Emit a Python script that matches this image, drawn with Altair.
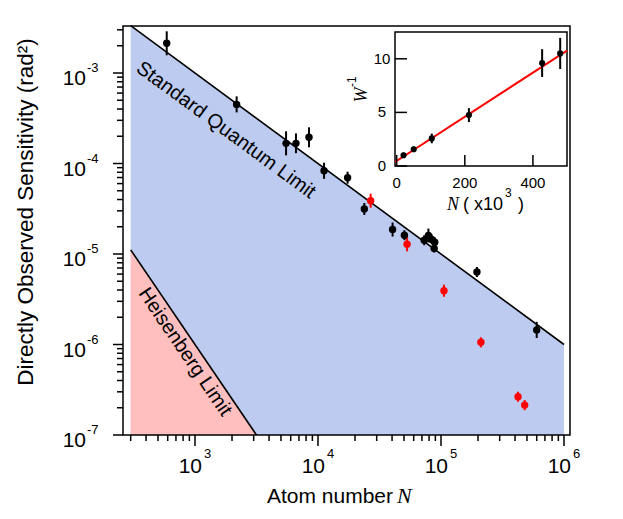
import altair as alt
import pandas as pd

# ---------------- main panel data ----------------
black_N = [589, 2180, 5500, 6620, 8450, 11200, 17400, 23800, 40400, 50400,
           73000, 79000, 84000, 89000, 88000, 196000, 600000]
black_S = [2.13e-3, 4.5e-4, 1.67e-4, 1.67e-4, 1.95e-4, 8.3e-5, 6.97e-5, 3.14e-5,
           1.87e-5, 1.61e-5, 1.42e-5, 1.6e-5, 1.45e-5, 1.35e-5, 1.15e-5, 6.33e-6, 1.45e-6]
black_lo = [1.57e-3, 3.67e-4, 1.23e-4, 1.30e-4, 1.51e-4, 6.77e-5, 5.98e-5, 2.70e-5,
            1.56e-5, 1.42e-5, 1.25e-5, 1.34e-5, 1.28e-5, 1.19e-5, 1.04e-5, 5.57e-6, 1.18e-6]
black_hi = [2.89e-3, 5.52e-4, 2.27e-4, 2.15e-4, 2.51e-4, 1.02e-4, 8.12e-5, 3.66e-5,
            2.23e-5, 1.83e-5, 1.61e-5, 1.91e-5, 1.65e-5, 1.53e-5, 1.27e-5, 7.19e-6, 1.78e-6]

red_N = [26800, 53000, 105700, 211000, 423000, 479000]
red_S = [3.88e-5, 1.28e-5, 3.93e-6, 1.06e-6, 2.65e-7, 2.14e-7]
red_lo = [3.25e-5, 1.07e-5, 3.37e-6, 9.3e-7, 2.33e-7, 1.88e-7]
red_hi = [4.64e-5, 1.53e-5, 4.58e-6, 1.2e-6, 3.01e-7, 2.43e-7]

sql_N = [300, 1e6]
sql_S = [3.333e-3, 1e-6]
hl_N = [300, 3162]
hl_S = [1.111e-5, 1e-7]
floor_S = 1e-7

x_major = [1e3, 1e4, 1e5, 1e6]
x_major_exp = ["3", "4", "5", "6"]
x_minor = [m * 10 ** e for e in (2, 3, 4, 5) for m in range(2, 10) if m * 10 ** e >= 300]
y_major = [1e-7, 1e-6, 1e-5, 1e-4, 1e-3]
y_major_exp = ["-7", "-6", "-5", "-4", "-3"]
y_minor = [m * 10.0 ** e for e in (-7, -6, -5, -4, -3) for m in range(2, 10) if m * 10.0 ** e < 3.3e-3]

sql_label = ["Standard Quantum Limit"]
sql_label_N = [1787]
sql_label_S = [2.34e-4]
hl_label = ["Heisenberg Limit"]
hl_label_N = [830]
hl_label_S = [8.26e-7]

# ---------------- inset data ----------------
inset_N = [20, 50, 103, 212, 427, 480]
inset_W = [1.0, 1.56, 2.57, 4.75, 9.6, 10.5]
inset_err = [0.25, 0.25, 0.45, 0.65, 1.3, 1.45]
fit_N = [-5, 500]
fit_W = [0.37, 10.77]
inset_xticks = [0, 200, 400]
inset_yticks = [0, 5, 10]

# ---------------- layout ----------------
W, H = 447, 409
FONT = "Liberation Sans"
SERIF = "Liberation Serif"
BLUE = "#BCCBEF"
PINK = "#FFBFBF"

xs = alt.Scale(type="log", domain=[259.8, 1.119e6])
ys = alt.Scale(type="log", domain=[1e-7, 3.307e-3])

def X(f):
    return alt.X(f, type="quantitative", scale=xs, axis=None)

def Y(f):
    return alt.Y(f, type="quantitative", scale=ys, axis=None)

black = pd.DataFrame({"N": black_N, "S": black_S, "lo": black_lo, "hi": black_hi})
red = pd.DataFrame({"N": red_N, "S": red_S, "lo": red_lo, "hi": red_hi})
sql = pd.DataFrame({"N": sql_N, "S": sql_S, "b": [floor_S] * len(sql_N)})
hl = pd.DataFrame({"N": hl_N, "S": hl_S, "b": [floor_S] * len(hl_N)})

blue_area = alt.Chart(sql).mark_area(color=BLUE, opacity=1).encode(x=X("N"), y=Y("S"), y2="b:Q")
pink_area = alt.Chart(hl).mark_area(color=PINK, opacity=1).encode(x=X("N"), y=Y("S"), y2="b:Q")
sql_line = alt.Chart(sql).mark_line(color="black", strokeWidth=1.6).encode(x=X("N"), y=Y("S"))
hl_line = alt.Chart(hl).mark_line(color="black", strokeWidth=1.6).encode(x=X("N"), y=Y("S"))

sql_text = alt.Chart(pd.DataFrame({"N": sql_label_N, "S": sql_label_S, "t": sql_label})).mark_text(
    angle=36.3, fontSize=20, font=FONT, color="black", align="center", baseline="middle"
).encode(x=X("N"), y=Y("S"), text="t:N")
hl_text = alt.Chart(pd.DataFrame({"N": hl_label_N, "S": hl_label_S, "t": hl_label})).mark_text(
    angle=55.8, fontSize=20, font=FONT, color="black", align="center", baseline="middle"
).encode(x=X("N"), y=Y("S"), text="t:N")

err_b = alt.Chart(black).mark_rule(color="black", strokeWidth=2).encode(x=X("N"), y=Y("lo"), y2="hi")
pts_b = alt.Chart(black).mark_circle(color="black", size=55, opacity=1).encode(x=X("N"), y=Y("S"))
err_r = alt.Chart(red).mark_rule(color="#FF0000", strokeWidth=2).encode(x=X("N"), y=Y("lo"), y2="hi")
pts_r = alt.Chart(red).mark_circle(color="#FF0000", size=55, opacity=1).encode(x=X("N"), y=Y("S"))

one = pd.DataFrame({"a": [0]})
frame = alt.Chart(one).mark_rect(fillOpacity=0, stroke="black", strokeWidth=1.5).encode(
    x=alt.value(0), x2=alt.value(W), y=alt.value(0), y2=alt.value(H))

xmaj = alt.Chart(pd.DataFrame({"t": x_major, "e": x_major_exp}))
xmin = alt.Chart(pd.DataFrame({"t": x_minor}))
ymaj = alt.Chart(pd.DataFrame({"t": y_major, "e": y_major_exp}))
ymin = alt.Chart(pd.DataFrame({"t": y_minor}))

xt_major = xmaj.mark_rule(color="black", strokeWidth=1.5).encode(x=X("t"), y=alt.value(H), y2=alt.value(H + 11))
xt_minor = xmin.mark_rule(color="black", strokeWidth=1.5).encode(x=X("t"), y=alt.value(H), y2=alt.value(H + 6))
yt_major = ymaj.mark_rule(color="black", strokeWidth=1.5).encode(y=Y("t"), x=alt.value(-10), x2=alt.value(0))
yt_minor = ymin.mark_rule(color="black", strokeWidth=1.5).encode(y=Y("t"), x=alt.value(-6), x2=alt.value(0))

xl_base = xmaj.transform_calculate(b="'10'").mark_text(
    align="right", baseline="alphabetic", dx=7, fontSize=21, font=FONT, color="black"
).encode(x=X("t"), y=alt.value(H + 38), text="b:N")
xl_sup = xmaj.mark_text(
    align="left", baseline="alphabetic", dx=9, fontSize=13, font=FONT, color="black"
).encode(x=X("t"), y=alt.value(H + 23), text="e:N")
yl_base = ymaj.transform_calculate(b="'10'").mark_text(
    align="right", baseline="alphabetic", dy=12, fontSize=21, font=FONT, color="black"
).encode(y=Y("t"), x=alt.value(-37), text="b:N")
yl_sup = ymaj.mark_text(
    align="left", baseline="alphabetic", dy=-1, fontSize=13, font=FONT, color="black"
).encode(y=Y("t"), x=alt.value(-36), text="e:N")

xtitle_a = alt.Chart(one).transform_calculate(t="'Atom number'").mark_text(
    align="right", baseline="alphabetic", fontSize=21, font=FONT, color="black"
).encode(x=alt.value(270), y=alt.value(477), text="t:N")
xtitle_b = alt.Chart(one).transform_calculate(t="'N'").mark_text(
    align="left", baseline="alphabetic", fontSize=22, font=SERIF, fontStyle="italic", color="black"
).encode(x=alt.value(274), y=alt.value(477), text="t:N")
ytitle = alt.Chart(one).transform_calculate(t="'Directly Observed Sensitivity (rad²)'").mark_text(
    align="center", baseline="middle", angle=270, fontSize=22.5, font=FONT, color="black"
).encode(x=alt.value(-97), y=alt.value(186), text="t:N")

main = alt.layer(blue_area, pink_area, sql_line, hl_line, sql_text, hl_text,
                 err_b, err_r, pts_b, pts_r, frame,
                 xt_major, xt_minor, yt_major, yt_minor,
                 xl_base, xl_sup, yl_base, yl_sup, xtitle_a, xtitle_b, ytitle)

# ---------------- inset ----------------
ixs = alt.Scale(domain=[-5, 500], range=[272, 444], zero=False, nice=False)
iys = alt.Scale(domain=[0, 12.5], range=[140, 6], zero=False, nice=False)

def IX(f):
    return alt.X(f, type="quantitative", scale=ixs, axis=None)

def IY(f):
    return alt.Y(f, type="quantitative", scale=iys, axis=None)

ins = pd.DataFrame({"N": inset_N, "W": inset_W, "e": inset_err})
ins["lo"] = ins["W"] - ins["e"]
ins["hi"] = ins["W"] + ins["e"]
fit = pd.DataFrame({"N": fit_N, "W": fit_W})

i_frame = alt.Chart(one).mark_rect(fill="white", stroke="black", strokeWidth=1.5).encode(
    x=alt.value(272), x2=alt.value(444), y=alt.value(6), y2=alt.value(140))
i_fit = alt.Chart(fit).mark_line(color="#FF0000", strokeWidth=2).encode(x=IX("N"), y=IY("W"))
i_err = alt.Chart(ins).mark_rule(color="black", strokeWidth=2).encode(x=IX("N"), y=IY("lo"), y2="hi")
i_pts = alt.Chart(ins).mark_circle(color="black", size=38, opacity=1).encode(x=IX("N"), y=IY("W"))
ixt = alt.Chart(pd.DataFrame({"t": inset_xticks}))
iyt = alt.Chart(pd.DataFrame({"t": inset_yticks}))
i_xticks = ixt.mark_rule(color="black", strokeWidth=1.5).encode(x=IX("t"), y=alt.value(140), y2=alt.value(129))
i_yticks = iyt.mark_rule(color="black", strokeWidth=1.5).encode(y=IY("t"), x=alt.value(272), x2=alt.value(284))
i_xlab = ixt.mark_text(align="center", baseline="alphabetic", fontSize=15, font=FONT, color="black").encode(
    x=IX("t"), y=alt.value(162), text="t:Q")
i_ylab = iyt.mark_text(align="center", baseline="middle", fontSize=15, font=FONT, color="black").encode(
    y=IY("t"), x=alt.value(259), text="t:Q")
i_xt_a = alt.Chart(one).transform_calculate(t="'N'").mark_text(
    align="left", baseline="alphabetic", fontSize=18, font=SERIF, fontStyle="italic", color="black"
).encode(x=alt.value(324), y=alt.value(184), text="t:N")
i_xt_b = alt.Chart(one).transform_calculate(t="'( x10'").mark_text(
    align="left", baseline="alphabetic", fontSize=18, font=FONT, color="black"
).encode(x=alt.value(340), y=alt.value(184), text="t:N")
i_xt_c = alt.Chart(one).transform_calculate(t="'3'").mark_text(
    align="left", baseline="alphabetic", fontSize=12, font=FONT, color="black"
).encode(x=alt.value(382), y=alt.value(171), text="t:N")
i_xt_d = alt.Chart(one).transform_calculate(t="')'").mark_text(
    align="left", baseline="alphabetic", fontSize=18, font=FONT, color="black"
).encode(x=alt.value(395), y=alt.value(184), text="t:N")
i_yt_a = alt.Chart(one).transform_calculate(t="'W'").mark_text(
    align="center", baseline="alphabetic", angle=270, fontSize=18, font=SERIF, fontStyle="italic", color="black"
).encode(x=alt.value(244), y=alt.value(69), text="t:N")
i_yt_b = alt.Chart(one).transform_calculate(t="'-1'").mark_text(
    align="left", baseline="alphabetic", angle=270, fontSize=12, font=FONT, color="black"
).encode(x=alt.value(233), y=alt.value(61), text="t:N")

inset = alt.layer(i_frame, i_fit, i_err, i_pts, i_xticks, i_yticks, i_xlab, i_ylab,
                  i_xt_a, i_xt_b, i_xt_c, i_xt_d, i_yt_a, i_yt_b)

chart = alt.layer(main, inset).resolve_scale(x="independent", y="independent").properties(
    width=W, height=H,
    autosize=alt.AutoSizeParams(type="none"),
    padding={"left": 115, "top": 18, "right": 40, "bottom": 80},
).configure_view(stroke=None)

chart.save("out.html", embed_options={"renderer": "svg", "actions": False})
